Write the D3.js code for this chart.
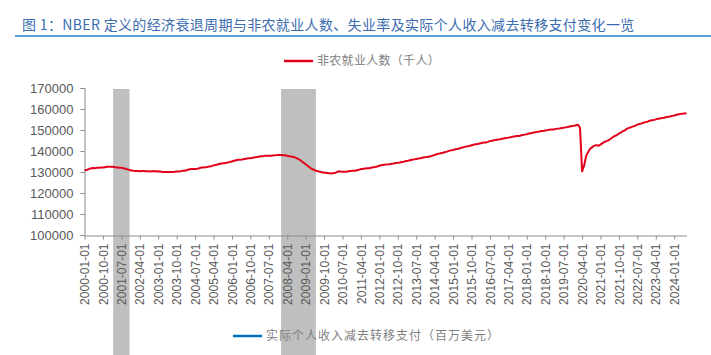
<!DOCTYPE html>
<html>
<head>
<meta charset="utf-8">
<script src="https://cdn.jsdelivr.net/npm/d3@7"></script>
<style>
  body { margin: 0; background: #fff; }
  svg { display: block; font-family: "Liberation Sans", Arial, "Noto Sans CJK SC", sans-serif; }
  .axis path, .axis line { stroke: #8c8c8c; }
  .axis text { fill: #595959; }
</style>
</head>
<body>
<div id="chart"></div>
<script>
// nonfarm payrolls (thousands), monthly from 2000-01 to 2024-07
var payems = [
  130781,130898,131370,131658,131892,131837,132003,131999,132120,132113,132305,132471,
  132500,132560,132507,132228,132172,132024,131982,131822,131580,131254,130932,130758,
  130629,130527,130499,130411,130422,130433,130328,130339,130275,130400,130439,130279,
  130366,130207,130000,129986,129994,130003,130019,129997,130096,130285,130289,130389,
  130549,130594,130924,131178,131382,131438,131475,131601,131758,132101,132166,132297,
  132425,132673,132794,133159,133332,133566,133914,134090,134158,134245,134596,134752,
  135035,135336,135620,135804,135887,135968,136180,136357,136514,136529,136740,136921,
  137157,137245,137475,137542,137683,137756,137772,137737,137833,137923,138038,138114,
  138109,138029,137947,137705,137518,137354,137133,136851,136392,135902,135146,134451,
  133660,132955,132149,131451,131083,130620,130320,130097,129862,129654,129657,129381,
  129354,129333,129569,129814,130335,130185,130109,130100,130078,130343,130470,130563,
  130609,130831,131066,131380,131483,131709,131789,131826,132056,132267,132412,132613,
  132947,133206,133449,133521,133632,133742,133875,134055,134258,134384,134532,134742,
  134925,135211,135353,135573,135812,136011,136140,136401,136577,136810,137047,137107,
  137297,137475,137798,138106,138441,138740,138968,139162,139438,139711,140060,140307,
  140498,140780,140900,141210,141549,141791,142081,142216,142397,142733,142979,143228,
  143330,143578,143812,144000,144043,144354,144723,144880,145148,145278,145422,145595,
  145862,146035,146137,146369,146520,146762,146945,147139,147143,147415,147641,147796,
  147976,148318,148490,148652,148927,149115,149223,149508,149555,149795,149943,150165,
  150288,150285,150444,150655,150747,150906,151025,151241,151440,151650,151912,152015,
  152234,152523,151090,130303,133002,137802,139566,141149,141865,142545,142809,142503,
  143017,143727,144432,144700,145147,145833,146575,147159,147600,148305,148904,149463,
  149869,150673,151030,151336,151725,152039,152560,152845,153134,153459,153749,153958,
  154430,154621,154810,155041,155322,155452,155671,155851,156097,156260,156442,156732,
  156888,157156,157466,157574,157790,157908,158022
];

// NBER recession months shaded on the chart
var recessions = [["2001-03-01", "2001-11-01"], ["2008-01-01", "2009-06-01"]];

var yTicks = [100000, 110000, 120000, 130000, 140000, 150000, 160000, 170000];

var titleText = "图 1：NBER 定义的经济衰退周期与非农就业人数、失业率及实际个人收入减去转移支付变化一览";
var legendTop = "非农就业人数（千人）";
var legendBottom = "实际个人收入减去转移支付（百万美元）";

var fmt = d3.timeFormat("%Y-%m-%d");
var months = d3.timeMonth.range(new Date(2000, 0, 1), new Date(2000, payems.length, 1)).map(fmt);

var width = 711, height = 355;

var svg = d3.select("#chart").append("svg")
    .attr("width", width)
    .attr("height", height);

// title + rule under it
svg.append("text")
    .attr("x", 22)
    .attr("y", 30)
    .attr("fill", "#3b6cb0")
    .style("font-size", "14px")
    .style("letter-spacing", "0.35px")
    .style("font-family", "'Noto Sans CJK SC', sans-serif")
    .text(titleText);

svg.append("line")
    .attr("x1", 15).attr("x2", 711)
    .attr("y1", 36).attr("y2", 36)
    .attr("stroke", "#5b9bd5")
    .attr("stroke-width", 2);

var x = d3.scalePoint()
    .domain(months)
    .range([84.5, 686.5]);

var y = d3.scaleLinear()
    .domain([100000, 170000])
    .range([235, 88]);

// recession bands, run from chart top to bottom of picture
svg.append("g").selectAll("rect")
    .data(recessions)
    .enter().append("rect")
    .attr("x", function(d) { return x(d[0]); })
    .attr("width", function(d) { return x(d[1]) - x(d[0]); })
    .attr("y", 89)
    .attr("height", height - 89)
    .attr("fill", "#bfbfbf");

var yAxis = svg.append("g")
    .attr("class", "axis")
    .attr("transform", "translate(84.5,0)")
    .call(d3.axisLeft(y).tickValues(yTicks).tickSize(4).tickPadding(7).tickFormat(d3.format("d")));
yAxis.selectAll("text").style("font-size", "13px");

var xAxis = svg.append("g")
    .attr("class", "axis")
    .attr("transform", "translate(0,235.5)")
    .call(d3.axisBottom(x)
        .tickValues(months.filter(function(d, i) { return i % 9 === 0; }))
        .tickSize(4)
        .tickSizeOuter(0));
xAxis.selectAll("text")
    .style("font-size", "12px")
    .attr("text-anchor", "end")
    .attr("transform", "rotate(-90)")
    .attr("x", -8)
    .attr("y", 0)
    .attr("dy", "0.35em");

var line = d3.line()
    .x(function(d, i) { return x(months[i]); })
    .y(function(d) { return y(d); });

svg.append("path")
    .datum(payems)
    .attr("fill", "none")
    .attr("stroke", "#e3001b")
    .attr("stroke-width", 2)
    .attr("stroke-linejoin", "round")
    .attr("d", line);

// legends
var legends = [
  { text: legendTop, color: "#e3001b", x: 284, y: 61, spacing: "0.3px" },
  { text: legendBottom, color: "#0070c0", x: 233, y: 336, spacing: "1px" }
];

var lg = svg.append("g").selectAll("g")
    .data(legends)
    .enter().append("g")
    .attr("transform", function(d) { return "translate(" + d.x + "," + d.y + ")"; });

lg.append("line")
    .attr("x1", 0).attr("x2", 29)
    .attr("stroke", function(d) { return d.color; })
    .attr("stroke-width", 2.5);

lg.append("text")
    .attr("x", 33)
    .attr("dy", "0.35em")
    .attr("fill", "#7f7f7f")
    .style("font-size", "12px")
    .style("font-family", "'Noto Sans CJK SC', sans-serif")
    .style("letter-spacing", function(d) { return d.spacing; })
    .text(function(d) { return d.text; });
</script>
</body>
</html>
